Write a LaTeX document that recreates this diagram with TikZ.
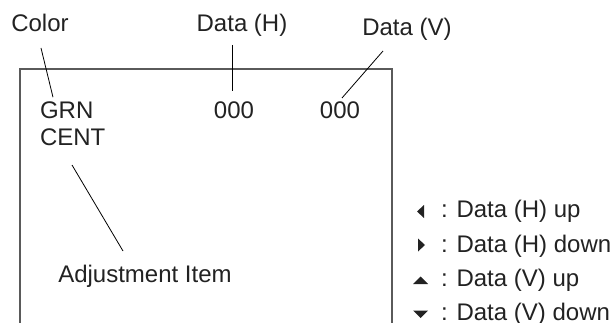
\documentclass[tikz,border=0pt]{standalone}
\usepackage{fontspec}
\setmainfont{Liberation Sans}
\usetikzlibrary{positioning, calc}
\definecolor{colortext}{HTML}{222222}
\definecolor{colorframe}{HTML}{5A5A5A}

\begin{document}
\begin{tikzpicture}[
    % pixel-like units, y running downwards
    x=1pt, y=-1pt,
    lbl/.style={
        inner sep=0pt,
        outer sep=0pt,
        text=colortext,
        font=\fontsize{24}{28}\selectfont
    },
    screen/.style={
        draw=colorframe,
        line width=1.4pt
    },
    leader/.style={
        draw=black,
        line width=0.8pt
    },
    keymark/.style={
        fill=colortext,
        draw=none
    }
]
\useasboundingbox (0,0) rectangle (610,323);

% ==============================
% Screen frame
% ==============================
\draw[screen] (20,330) |- (392,69) -- (392,330);

% ==============================
% Callout labels
% ==============================
\node[lbl, anchor=base] (color) at (40,32) {Color};
\node[lbl, anchor=base] (dath) at (242,32) {Data (H)};
\node[lbl, anchor=base] (datv) at (407,36) {Data (V)};
\node[lbl, anchor=base] (adj) at (145,282) {Adjustment Item};

% ==============================
% On-screen display
% ==============================
\node[lbl, anchor=base west] (grn) at (40,119) {GRN};
\node[lbl, anchor=base west] (cent) at (40,146) {CENT};
\node[lbl, anchor=base] (zh) at (234,119) {000};
\node[lbl, anchor=base] (zv) at (340,119) {000};

% ==============================
% Leader lines
% ==============================
\draw[leader] ($(color.base)+(1,16)$) -- ($(grn.north west)+(13,-5)$);
\draw[leader] ($(dath.base)+(-10,13)$) -- ($(zh.base)+(-2,-28)$);
\draw[leader] ($(datv.base)+(-24,15)$) -- ($(zv.base)+(2,-21)$);
\draw[leader] ($(cent.base west)+(32,19)$) -- ($(adj.base)+(-22,-31)$);

% ==============================
% Key legend
% ==============================
\node[lbl, anchor=base west] (kleft) at (441,218) {: Data (H) up};
\node[lbl, anchor=base west] (kright) at (441,252) {: Data (H) down};
\node[lbl, anchor=base west] (kup) at (441,286) {: Data (V) up};
\node[lbl, anchor=base west] (kdown) at (441,320) {: Data (V) down};

\fill[keymark] ($(kleft.base west)+(-24,-6.5)$) -- ++(7,-6.5) -- ++(0,13) -- cycle;
\fill[keymark] ($(kright.base west)+(-23,-13.5)$) -- ++(0,13) -- ++(7,-6.5) -- cycle;
\fill[keymark] ($(kup.base west)+(-28,-2)$) -- ++(15,0) -- ++(-7.5,-7.5) -- cycle;
\fill[keymark] ($(kdown.base west)+(-28,-9.5)$) -- ++(15,0) -- ++(-7.5,7.5) -- cycle;

\end{tikzpicture}
\end{document}
